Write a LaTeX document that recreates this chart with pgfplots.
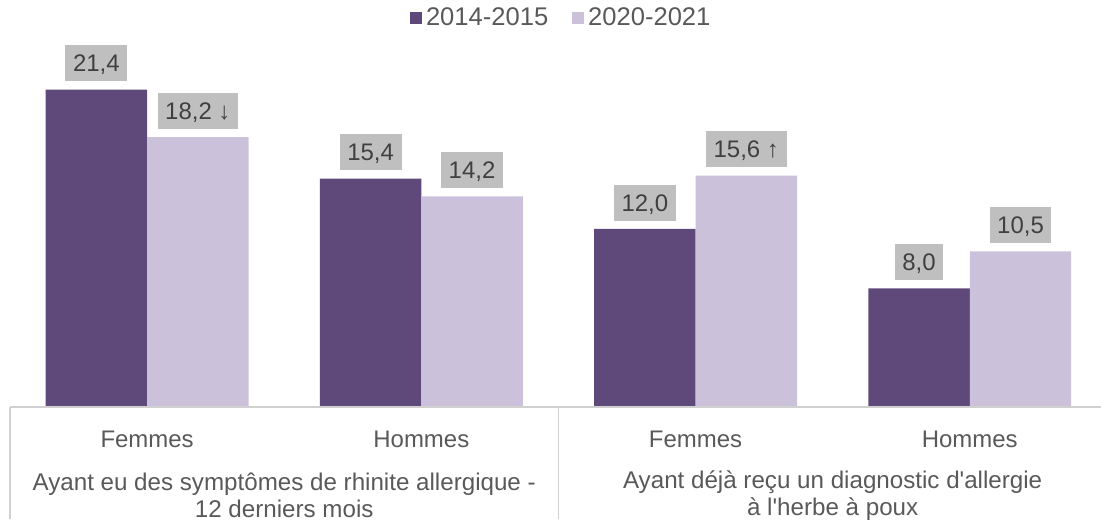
\documentclass[border=0pt]{standalone}
\usepackage{fontspec}
\setmainfont{Liberation Sans}
\usepackage{pgfplots}
\pgfplotsset{compat=1.18}
\usepackage{pgfplotstable}
\definecolor{dark}{HTML}{5F497A}
\definecolor{light}{HTML}{CCC1DA}
\definecolor{txt}{HTML}{595959}
\definecolor{labtxt}{HTML}{404040}
\definecolor{boxg}{HTML}{BFBFBF}
\definecolor{linec}{HTML}{D0D0D0}

\pgfplotstableread[col sep=semicolon]{
x;y;lab
0;21.4;21,4
1;15.4;15,4
2;12.0;12,0
3;8.0;8,0
}\first
\pgfplotstableread[col sep=semicolon]{
x;y;lab
0;18.2;18,2~↓
1;14.2;14,2
2;15.6;15,6~↑
3;10.5;10,5
}\second

\begin{document}
\begin{tikzpicture}
\begin{axis}[
  scale only axis, width=546.6pt, height=203.6pt,
  xmin=-0.5, xmax=3.48, ymin=0, ymax=27.4,
  ybar=0pt, bar width=0.37,
  clip=false,
  axis line style={draw=none},
  xtick={0,1,2,3}, xticklabels={Femmes,Hommes,Femmes,Hommes},
  xticklabel style={font=\fontsize{12}{13}\selectfont, text=txt, yshift=-8.5pt},
  major tick length=0pt,
  ytick=\empty,
  nodes near coords, point meta=explicit symbolic,
  every node near coord/.append style={font=\fontsize{12}{13}\selectfont, text=labtxt, fill=boxg,
     inner xsep=3.8pt, text height=8.6pt, text depth=0pt, inner ysep=4.7pt, yshift=4pt, anchor=south},
  legend style={at={(0.506,0.956)}, anchor=center, legend columns=2, draw=none, fill=none,
     font=\fontsize{12.8}{14}\selectfont, text=txt,
     /tikz/every even column/.append style={column sep=10pt},
     /tikz/every odd column/.append style={column sep=0pt}},
  legend image code/.code={\fill[#1] (0pt,-3pt) rectangle (6pt,3pt);},
]
\addplot[fill=dark, draw=none] table[x=x,y=y,meta=lab]{\first};
\addplot[fill=light, draw=none] table[x=x,y=y,meta=lab]{\second};
\legend{2014-2015,2020-2021}
\draw[linec, line width=0.6pt] (axis cs:-0.5,0) -- (axis cs:3.48,0);
\draw[linec, line width=0.6pt] (axis cs:-0.5,0) -- ++(0pt,-56pt);
\draw[linec, line width=0.6pt] (axis cs:1.5,0) -- ++(0pt,-56pt);
\path (axis cs:-0.5,0) ++(-5pt,-56pt) coordinate (bl);
\path (bl) rectangle ++(1pt,1pt);
\node[font=\fontsize{12.1}{13.5}\selectfont, text=txt, align=center, anchor=center]
  at ([yshift=-44.3pt]axis cs:0.5,0) {Ayant eu des symptômes de rhinite allergique -\\12 derniers mois};
\node[font=\fontsize{12.1}{13.5}\selectfont, text=txt, align=center, anchor=center]
  at ([yshift=-44.3pt]axis cs:2.5,0) {Ayant déjà reçu un diagnostic d\textquotesingle allergie\\à l\textquotesingle herbe à poux};
\end{axis}
\end{tikzpicture}
\end{document}
